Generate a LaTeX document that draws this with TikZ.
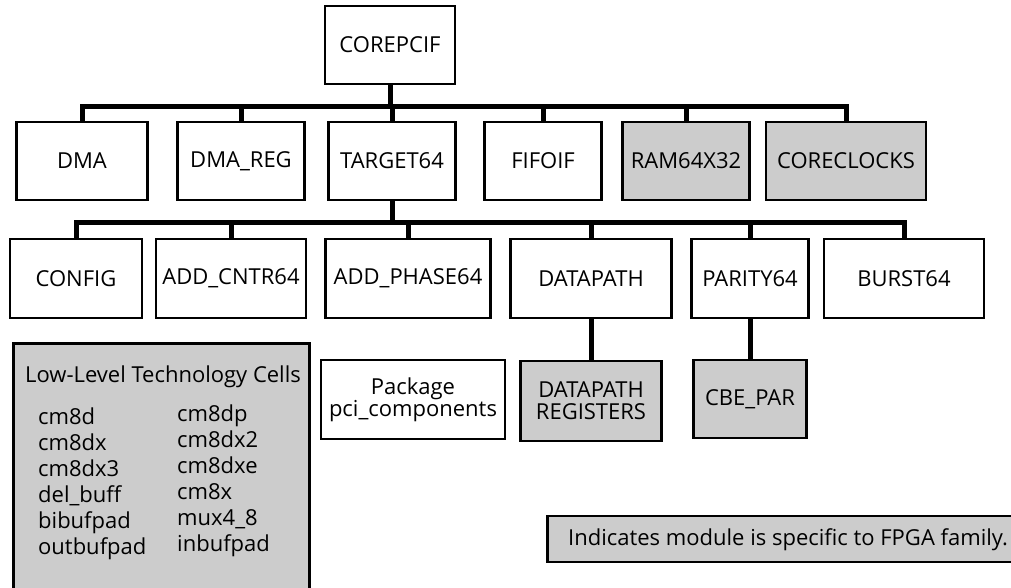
\documentclass[tikz,border=0pt]{standalone}
\usepackage{fontspec}
\setmainfont{Open Sans}
\usepackage{tikz}
\definecolor{fpgagray}{gray}{0.8}
\tikzset{
    modnode/.style={rectangle,draw=black,line width=2.5pt,align=center,inner sep=0pt,font=\fontsize{22}{22}\selectfont},
    fpganode/.style={modnode,fill=fpgagray},
    celltext/.style={inner sep=0pt,font=\fontsize{22}{22}\selectfont},
    rowone/.style={minimum height=78pt},
    rowtwo/.style={minimum height=79pt},
    bus/.style={line width=5pt}
}

\begin{document}
\begin{tikzpicture}[x=1pt,y=-1pt]
\useasboundingbox (0,0) rectangle (1011,588);

% top level
\node[modnode,minimum width=130pt,minimum height=78pt] (COREPCIF) at (390,45) {COREPCIF};

% first level
\node[modnode,rowone,minimum width=131pt] (DMA)        at (82,161)  {DMA};
\node[modnode,rowone,minimum width=127pt] (DMAREG)     at (241,161) {DMA\_REG};
\node[modnode,rowone,minimum width=127pt] (TARGET64)   at (392,161) {TARGET64};
\node[modnode,rowone,minimum width=117pt] (FIFOIF)     at (543,161) {FIFOIF};
\node[fpganode,rowone,minimum width=127pt] (RAM64X32)  at (686,161) {RAM64X32};
\node[fpganode,rowone,minimum width=160pt] (CORECLOCKS) at (846,161) {CORECLOCKS};

% second level
\node[modnode,rowtwo,minimum width=132pt] (CONFIG)     at (76,278.5)  {CONFIG};
\node[modnode,rowtwo,minimum width=150pt] (ADDCNTR64)  at (231,278.5) {ADD\_CNTR64};
\node[modnode,rowtwo,minimum width=165pt] (ADDPHASE64) at (408,278.5) {ADD\_PHASE64};
\node[modnode,rowtwo,minimum width=161pt] (DATAPATH)   at (591,278.5) {DATAPATH};
\node[modnode,rowtwo,minimum width=117pt] (PARITY64)   at (750,278.5) {PARITY64};
\node[modnode,rowtwo,minimum width=160pt] (BURST64)    at (904,278.5) {BURST64};

% third level
\node[modnode,minimum width=184pt,minimum height=79pt] (PCIPKG) at (413,399.5) {Package\\pci\_components};
\node[fpganode,minimum width=141pt,minimum height=80pt] (DPREGS) at (591,401) {DATAPATH\\REGISTERS};
\node[fpganode,minimum width=113pt,minimum height=78pt] (CBEPAR) at (750,399) {CBE\_PAR};

% technology cells
\node[fpganode,anchor=north west,minimum width=296pt,minimum height=280pt] (CELLS) at (12,342) {};
\node[celltext,anchor=base] (CELLTITLE) at (163,382) {Low-Level Technology Cells};
\foreach \c [count=\i] in {cm8d,cm8dx,cm8dx3,del\_buff,bibufpad,outbufpad}
    \node[celltext,anchor=base west] (LCELL\i) at (38,{424+26*(\i-1)}) {\c};
\foreach \c [count=\i] in {cm8dp,cm8dx2,cm8dxe,cm8x,mux4\_8,inbufpad}
    \node[celltext,anchor=base west] (RCELL\i) at (177,{421+26*(\i-1)}) {\c};

% legend
\node[fpganode,anchor=west,minimum width=480pt,minimum height=46pt] (LEGEND) at (546,539) {};
\node[celltext,anchor=base west] (LEGENDTXT) at (568,545) {Indicates module is specific to FPGA family.};

% connectors
\foreach \m in {DMA,DMAREG,TARGET64,FIFOIF,RAM64X32,CORECLOCKS}
    \draw[bus] (COREPCIF.south) -- ++(0,21) -| (\m.north);
\foreach \m in {CONFIG,ADDCNTR64,ADDPHASE64,DATAPATH,PARITY64,BURST64}
    \draw[bus] (TARGET64.south) -- ++(0,21) -| (\m.north);
\draw[bus] (DATAPATH.south) -- (DPREGS.north);
\draw[bus] (PARITY64.south) -- (CBEPAR.north);
\end{tikzpicture}
\end{document}
